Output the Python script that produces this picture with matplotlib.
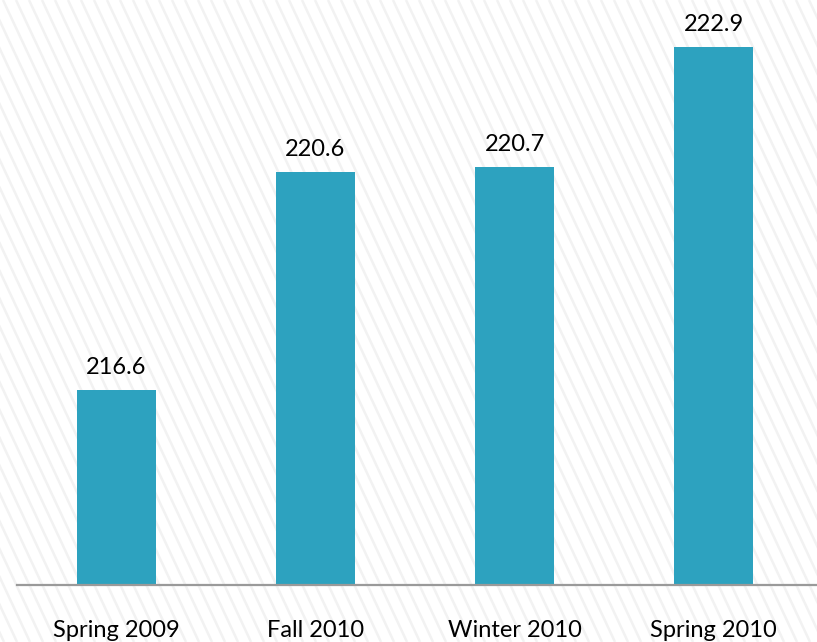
import numpy as np
from matplotlib import pyplot as plt
from matplotlib.collections import LineCollection

categories = ["Spring 2009", "Fall 2010", "Winter 2010", "Spring 2010"]
scores = [216.6, 220.6, 220.7, 222.9]

BAR_COLOR = "#2DA2BF"
FONT = "Lato"

fig = plt.figure(figsize=(8.17, 6.42), dpi=100)
fig.patch.set_facecolor("white")

# faint diagonal stripes on the background
bg = fig.add_axes([0, 0, 1, 1], zorder=0)
bg.set_xlim(0, 817)
bg.set_ylim(642, 0)
bg.axis("off")
segs = []
for x0 in np.arange(-400, 830, 13):
    segs.append([(x0, 0), (x0 + 300, 642)])
bg.add_collection(LineCollection(segs, colors="#F2F2F2", linewidths=1.8))

# main chart
ax = fig.add_axes([17 / 817, 57 / 642, 800 / 817, 585 / 642], zorder=1)
ax.patch.set_alpha(0)
x = np.arange(len(categories))
bars = ax.bar(x, scores, width=0.4, color=BAR_COLOR, zorder=2)
ax.set_ylim(213, 213 + 585 / 54.3)
ax.set_xlim(-0.5, 3.52)

for b, v in zip(bars, scores):
    ax.text(b.get_x() + b.get_width() / 2, v + 0.22, f"{v:.1f}",
            ha="center", va="bottom", fontsize=17, family=FONT, color="black")

for s in ["top", "right", "left"]:
    ax.spines[s].set_visible(False)
ax.spines["bottom"].set_color("#9A9A9A")
ax.spines["bottom"].set_linewidth(1.6)
ax.set_yticks([])
ax.set_xticks(x)
ax.set_xticklabels(categories, fontsize=17, family=FONT)
ax.tick_params(axis="x", length=0, pad=25)

fig.savefig("out.png", dpi=100)
